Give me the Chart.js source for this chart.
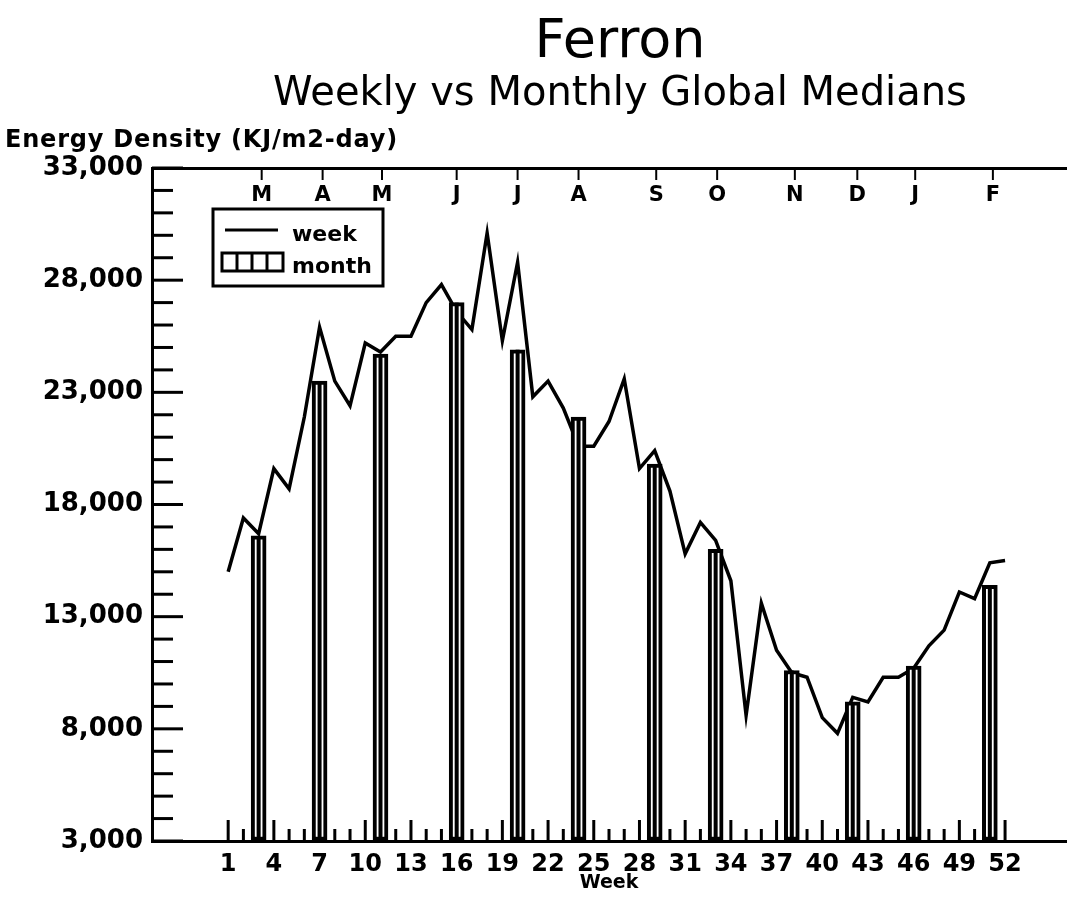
<!DOCTYPE html>
<html>
<head>
<meta charset="utf-8">
<title>Ferron</title>
<script src="https://cdn.jsdelivr.net/npm/chart.js@4.4.1/dist/chart.umd.min.js"></script>
<style>
    html, body { margin: 0; padding: 0; background: #fff; }
    #painel { width: 1074px; height: 907px; }
</style>
</head>
<body>
<div id="painel"><canvas id="grafico" width="1074" height="907"></canvas></div>
<script>
// weekly global medians (KJ/m2-day), week 1..52
const WEEKS = [1, 2, 3, 4, 5, 6, 7, 8, 9, 10, 11, 12, 13, 14, 15, 16, 17, 18, 19, 20, 21, 22, 23, 24, 25, 26,
    27, 28, 29, 30, 31, 32, 33, 34, 35, 36, 37, 38, 39, 40, 41, 42, 43, 44, 45, 46, 47, 48, 49, 50, 51, 52];
const WEEK_MEDIAN = [15000, 17400, 16700, 19600, 18700, 21900, 25900, 23500, 22400, 25200, 24800, 25500, 25500,
    27000, 27800, 26600, 25800, 30100, 25300, 28800, 22800, 23500, 22300, 20600, 20600, 21700,
    23600, 19600, 20400, 18600, 15800, 17200, 16400, 14600, 8600, 13600, 11500, 10500, 10300,
    8500, 7800, 9400, 9200, 10300, 10300, 10700, 11700, 12400, 14100, 13800, 15400, 15500];

// monthly medians, placed at the week they belong to
const MONTH_WEEKS = [3, 7, 11, 16, 20, 24, 29, 33, 38, 42, 46, 51];
const MONTH_MEDIAN = [16600, 23500, 24700, 27000, 24900, 21900, 19800, 16000, 10600, 9200, 10800, 14400];

// month letters along the top edge
const MONTH_NAMES = ["M", "A", "M", "J", "J", "A", "S", "O", "N", "D", "J", "F"];
const MONTH_MARKS = [3.2, 7.2, 11.1, 16, 20, 24, 29.1, 33.1, 38.2, 42.3, 46.1, 51.2];

const WEEK_LABELS = [1, 4, 7, 10, 13, 16, 19, 22, 25, 28, 31, 34, 37, 40, 43, 46, 49, 52];
const Y_TICKS = [3000, 8000, 13000, 18000, 23000, 28000, 33000];
const Y_MIN = 3000, Y_MAX = 33000, Y_MINOR = 1000;
const X_MIN = -4, X_MAX = 56;

const TINTA = '#000';
const FAMILIA = '"DejaVu Sans", sans-serif';

function fonte(size, weight) {
    return (weight || 'normal') + ' ' + size + 'px ' + FAMILIA;
}

// inward tick marks on left, bottom and top edges (drawn under the bars)
const marcas = {
    id: 'marcas',
    beforeDatasetsDraw(chart) {
        const { ctx, chartArea: area, scales } = chart;
        ctx.save();
        ctx.strokeStyle = TINTA;
        ctx.lineWidth = 3;
        ctx.lineCap = 'butt';

        for (let v = Y_MIN; v <= Y_MAX; v += Y_MINOR) {
            const py = scales.y.getPixelForValue(v);
            const len = Y_TICKS.includes(v) ? 31 : 21;
            ctx.beginPath();
            ctx.moveTo(area.left, py);
            ctx.lineTo(area.left + len, py);
            ctx.stroke();
        }

        WEEKS.forEach(w => {
            const px = scales.x.getPixelForValue(w);
            const len = WEEK_LABELS.includes(w) ? 21 : 12;
            ctx.beginPath();
            ctx.moveTo(px, area.bottom);
            ctx.lineTo(px, area.bottom - len);
            ctx.stroke();
        });

        ctx.lineWidth = 2;
        ctx.fillStyle = TINTA;
        ctx.font = fonte(21, 'bold');
        ctx.textAlign = 'center';
        ctx.textBaseline = 'middle';
        MONTH_MARKS.forEach((m, i) => {
            const px = scales.xTop.getPixelForValue(m);
            ctx.beginPath();
            ctx.moveTo(px, area.top);
            ctx.lineTo(px, area.top + 12);
            ctx.stroke();
            ctx.fillText(MONTH_NAMES[i], px, area.top + 28);
        });
        ctx.restore();
    }
};

// centre stripe inside each monthly bar
const listras = {
    id: 'listras',
    afterDatasetsDraw(chart) {
        const meta = chart.getDatasetMeta(1);
        const ctx = chart.ctx;
        ctx.save();
        ctx.fillStyle = TINTA;
        meta.data.forEach(bar => {
            const { x, y, base } = bar.getProps(['x', 'y', 'base'], true);
            ctx.fillRect(x - 2, y, 4, base - y);
        });
        ctx.restore();
    }
};

// titles, value-axis caption and the boxed legend
const textos = {
    id: 'textos',
    afterDraw(chart) {
        const { ctx, chartArea: area } = chart;
        ctx.save();
        ctx.fillStyle = TINTA;
        ctx.strokeStyle = TINTA;

        ctx.textAlign = 'center';
        ctx.textBaseline = 'alphabetic';
        ctx.font = fonte(54);
        ctx.fillText('Ferron', 620, 57);
        ctx.font = fonte(40);
        ctx.fillText('Weekly vs Monthly Global Medians', 620, 105);

        ctx.textAlign = 'left';
        ctx.font = fonte(24, 'bold');
        ctx.letterSpacing = '0.8px';
        ctx.fillText('Energy Density (KJ/m2-day)', 5, 147);
        ctx.letterSpacing = '0px';

        // legend box
        const lx = area.left + 61, ly = area.top + 41;
        ctx.lineWidth = 3;
        ctx.fillStyle = '#fff';
        ctx.fillRect(lx, ly, 170, 77);
        ctx.strokeRect(lx, ly, 170, 77);

        ctx.beginPath();
        ctx.moveTo(lx + 12, ly + 21);
        ctx.lineTo(lx + 65, ly + 21);
        ctx.stroke();

        ctx.strokeRect(lx + 9, ly + 44, 61, 18);
        [24, 39, 54].forEach(dx => {
            ctx.beginPath();
            ctx.moveTo(lx + dx, ly + 44);
            ctx.lineTo(lx + dx, ly + 62);
            ctx.stroke();
        });

        ctx.fillStyle = TINTA;
        ctx.font = fonte(22, 'bold');
        ctx.fillText('week', lx + 79, ly + 32);
        ctx.fillText('month', lx + 79, ly + 64);
        ctx.restore();
    }
};

const ctx = document.getElementById('grafico');
const meuGrafico = new Chart(ctx, {
    type: 'bar',
    data: {
        datasets: [
            {
                type: 'line',
                label: 'week',
                data: WEEKS.map((w, i) => ({ x: w, y: WEEK_MEDIAN[i] })),
                borderColor: TINTA,
                borderWidth: 3.5,
                borderJoinStyle: 'miter',
                pointRadius: 0,
                tension: 0,
                order: 2
            },
            {
                type: 'bar',
                label: 'month',
                data: MONTH_WEEKS.map((w, i) => ({ x: w, y: MONTH_MEDIAN[i] })),
                backgroundColor: '#fff',
                borderColor: TINTA,
                borderWidth: 4,
                borderSkipped: false,
                barThickness: 15,
                base: Y_MIN,
                order: 1
            }
        ]
    },
    options: {
        responsive: false,
        animation: false,
        devicePixelRatio: 1,
        layout: { padding: { left: 0, right: 8, top: 0, bottom: 0 } },
        plugins: {
            legend: { display: false },
            tooltip: { enabled: false }
        },
        scales: {
            x: {
                type: 'linear',
                position: 'bottom',
                min: X_MIN,
                max: X_MAX,
                offset: false,
                afterBuildTicks: s => { s.ticks = WEEK_LABELS.map(v => ({ value: v })); },
                afterFit: s => { s.height = 66; },
                grid: { drawOnChartArea: false, drawTicks: false },
                border: { color: TINTA, width: 3 },
                ticks: {
                    color: TINTA,
                    padding: 9,
                    autoSkip: false,
                    maxRotation: 0,
                    font: { family: FAMILIA, weight: 'bold', size: 24 }
                },
                title: {
                    display: true,
                    text: 'Week',
                    color: TINTA,
                    padding: { top: 0, bottom: 13 },
                    font: { family: FAMILIA, weight: 'bold', size: 19 }
                }
            },
            xTop: {
                type: 'linear',
                position: 'top',
                min: X_MIN,
                max: X_MAX,
                offset: false,
                afterFit: s => { s.height = 168; },
                grid: { drawOnChartArea: false, drawTicks: false },
                border: { color: TINTA, width: 3 },
                ticks: { display: false }
            },
            y: {
                type: 'linear',
                position: 'left',
                min: Y_MIN,
                max: Y_MAX,
                afterBuildTicks: s => { s.ticks = Y_TICKS.map(v => ({ value: v })); },
                afterFit: s => { s.width = 152; },
                grid: { drawOnChartArea: false, drawTicks: false },
                border: { color: TINTA, width: 3 },
                ticks: {
                    color: TINTA,
                    padding: 9,
                    font: { family: FAMILIA, weight: 'bold', size: 26 },
                    callback: v => v.toLocaleString('en-US')
                }
            }
        }
    },
    plugins: [marcas, listras, textos]
});
</script>
</body>
</html>
